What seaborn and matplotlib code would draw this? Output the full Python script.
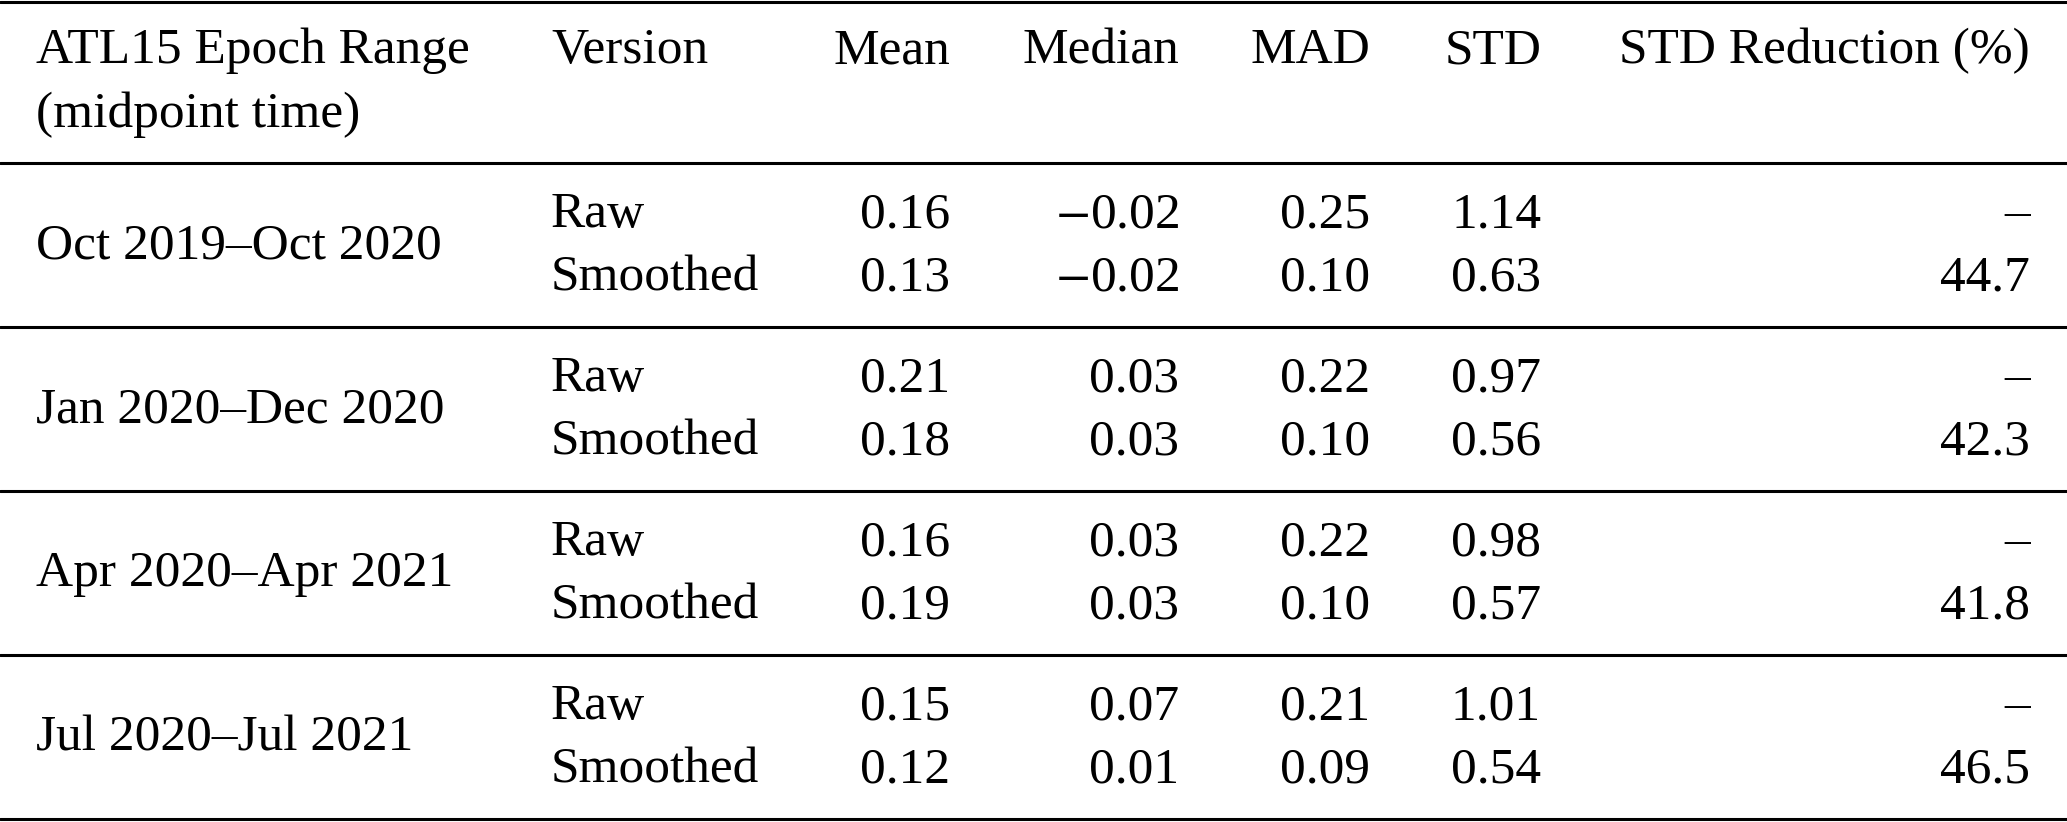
import pandas as pd
import matplotlib.pyplot as plt
import seaborn as sns

# Table contents
epochs = ["Oct 2019–Oct 2020", "Jan 2020–Dec 2020", "Apr 2020–Apr 2021", "Jul 2020–Jul 2021"]
versions = ["Raw", "Smoothed"]
mean_vals = [0.16, 0.13, 0.21, 0.18, 0.16, 0.19, 0.15, 0.12]
median_vals = [-0.02, -0.02, 0.03, 0.03, 0.03, 0.03, 0.07, 0.01]
mad_vals = [0.25, 0.10, 0.22, 0.10, 0.22, 0.10, 0.21, 0.09]
std_vals = [1.14, 0.63, 0.97, 0.56, 0.98, 0.57, 1.01, 0.54]
std_reduction = [None, 44.7, None, 42.3, None, 41.8, None, 46.5]
headers = ["ATL15 Epoch Range\n(midpoint time)", "Version", "Mean", "Median", "MAD", "STD",
           "STD Reduction (%)"]

df = pd.DataFrame({
    "epoch": [e for e in epochs for _ in versions],
    "version": versions * len(epochs),
    "Mean": mean_vals,
    "Median": median_vals,
    "MAD": mad_vals,
    "STD": std_vals,
    "STD Reduction (%)": std_reduction,
})


def fmt(v, nd=2):
    if v is None or pd.isna(v):
        return "–"
    s = f"{abs(v):.{nd}f}"
    # wide thin math minus like the LaTeX original
    return "$-$" + s if v < 0 else s


sns.set_theme(style="white")
plt.rcParams["font.family"] = ["Liberation Serif", "DejaVu Serif"]
plt.rcParams["mathtext.fontset"] = "stix"

W, H = 2067, 822
fig = plt.figure(figsize=(W / 100, H / 100), dpi=100)
ax = fig.add_axes([0, 0, 1, 1])
ax.set_xlim(0, W)
ax.set_ylim(H, 0)
ax.axis("off")

fs = 37
lw = 2.2
ink = "black"

# column anchors (left for text columns, right for numbers)
x_epoch, x_version = 36, 551
num_cols = ["Mean", "Median", "MAD", "STD", "STD Reduction (%)"]
num_right = [950, 1179, 1370, 1541, 2030]

# header
head_base = 63
ax.text(x_epoch, head_base, "ATL15 Epoch Range", ha="left", va="baseline", fontsize=fs, color=ink)
ax.text(x_epoch, 127, "(midpoint time)", ha="left", va="baseline", fontsize=fs, color=ink)
ax.text(x_version, head_base, headers[1], ha="left", va="baseline", fontsize=fs, color=ink)
for col, xr in zip(num_cols, num_right):
    ax.text(xr, head_base, col, ha="right", va="baseline", fontsize=fs, color=ink)

# rules
top_rule, head_rule, group_h = 2, 163, 164
rules = [top_rule] + [head_rule + i * group_h for i in range(len(epochs) + 1)]
for y in rules:
    ax.axhline(y, color=ink, lw=lw, clip_on=False)

# body
for gi, (epoch, grp) in enumerate(df.groupby("epoch", sort=False)):
    y0 = head_rule + gi * group_h
    ax.text(x_epoch, y0 + 95, epoch, ha="left", va="baseline", fontsize=fs, color=ink)
    for ri, (_, row) in enumerate(grp.iterrows()):
        yb = y0 + 64 + ri * 63
        ax.text(x_version, yb, row["version"], ha="left", va="baseline", fontsize=fs, color=ink)
        for col, xr in zip(num_cols, num_right):
            nd = 1 if col == "STD Reduction (%)" else 2
            ax.text(xr, yb, fmt(row[col], nd), ha="right", va="baseline", fontsize=fs, color=ink)

fig.savefig("out.png", dpi=100, facecolor="white")
